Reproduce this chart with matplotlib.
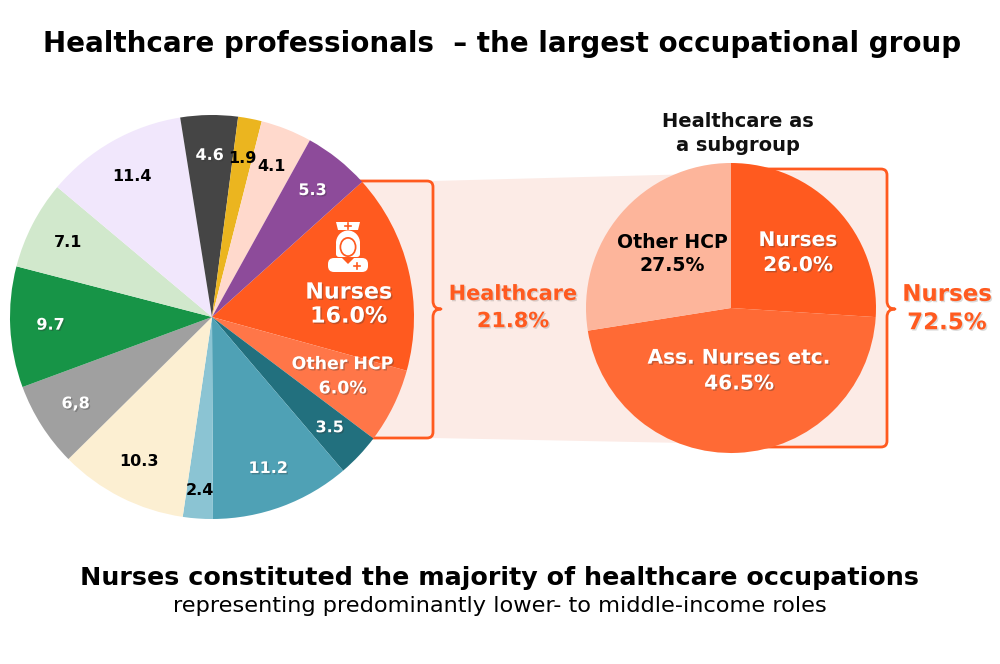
import matplotlib
matplotlib.use("Agg")
import matplotlib.pyplot as plt
import matplotlib.patheffects as pe
from matplotlib.patches import Polygon, PathPatch, FancyBboxPatch, Ellipse
from matplotlib.path import Path
import numpy as np

plt.rcParams['font.family'] = ['DejaVu Sans']

# ---------------- data ----------------
main_values = [16.0, 6.0, 3.5, 11.2, 2.4, 10.3, 6.8, 9.7, 7.1, 11.4, 4.6, 1.9, 4.1, 5.3]
main_labels = ["Nurses\n16.0%", "Other HCP\n6.0%", "3.5", "11.2", "2.4", "10.3", "6,8",
               "9.7", "7.1", "11.4", "4.6", "1.9", "4.1", "5.3"]
main_colors = ["#FF5A1F", "#FF7648", "#22707E", "#4FA1B5", "#8BC4D3", "#FCEFD2", "#A0A0A0",
               "#179447", "#D1E8CC", "#F1E7FC", "#454545", "#EBB51F", "#FFD9CC", "#8D4B9A"]
main_text_colors = ["white", "white", "white", "white", "black", "black", "white",
                    "white", "black", "black", "white", "black", "black", "white"]

sub_values = [26.0, 46.5, 27.5]
sub_labels = ["Nurses\n26.0%", "Ass. Nurses etc.\n46.5%", "Other HCP\n27.5%"]
sub_colors = ["#FF5A1F", "#FF6A35", "#FDB59B"]
sub_text_colors = ["white", "white", "black"]

healthcare_share = "21.8%"
nurses_share = "72.5%"

ORANGE = "#FF5A1F"
SHADE = "#FCEBE6"

W, H = 1000, 664
fig = plt.figure(figsize=(10, 6.64), dpi=100)
ax = fig.add_axes([0, 0, 1, 1])

def Y(y):
    return H - y

shadow = [pe.SimplePatchShadow(offset=(1, -1), alpha=0.3, shadow_rgbFace="#333333"), pe.Normal()]
oshadow = [pe.SimplePatchShadow(offset=(1, -1), alpha=0.18, shadow_rgbFace="#333333"), pe.Normal()]

# ---------------- shaded band ----------------
band = Polygon([(355, Y(181)), (433, Y(181)), (887, Y(169)), (887, Y(447)),
                (433, Y(438)), (370, Y(438))], closed=True, facecolor=SHADE,
               edgecolor='none', zorder=0)
ax.add_patch(band)

# ---------------- brackets (behind pies) ----------------
def bracket(x, y_top, y_bot, y_mid, x_top_start, x_bot_start, rad=6, notch=8):
    verts = [(x_top_start, Y(y_top)), (x - rad, Y(y_top)), (x, Y(y_top)), (x, Y(y_top + rad)),
             (x, Y(y_mid - notch)), (x, Y(y_mid)), (x + notch, Y(y_mid)),
             (x, Y(y_mid)), (x, Y(y_mid + notch)),
             (x, Y(y_bot - rad)), (x, Y(y_bot)), (x - rad, Y(y_bot)), (x_bot_start, Y(y_bot))]
    codes = [Path.MOVETO, Path.LINETO, Path.CURVE3, Path.CURVE3,
             Path.LINETO, Path.CURVE3, Path.CURVE3,
             Path.CURVE3, Path.CURVE3,
             Path.LINETO, Path.CURVE3, Path.CURVE3, Path.LINETO]
    ax.add_patch(PathPatch(Path(verts, codes), facecolor='none', edgecolor=ORANGE,
                           lw=2, zorder=0.5, capstyle='round', joinstyle='round'))

bracket(433, 181, 438, 309, 340, 350)
bracket(887, 169, 447, 309, 735, 735)

# ---------------- main pie ----------------
c1 = (212, Y(317)); r1 = 202
wedges1, _ = ax.pie(main_values, colors=main_colors, startangle=42, counterclock=False,
                    center=c1, radius=r1, frame=True,
                    wedgeprops=dict(linewidth=0, edgecolor='none'))
total = sum(main_values)
cum = 0
for i, v in enumerate(main_values):
    mid = 42 - (cum + v / 2) / total * 360
    cum += v
    t = np.deg2rad(mid)
    ls = 1.0
    if i == 0:
        d = 0.68; t = np.deg2rad(5.2); fs = 16; ls = 1.25
    elif i == 1:
        d = 0.71; t = np.deg2rad(-24.4); fs = 12.5; ls = 1.45
    else:
        d = 0.80; fs = 11.5
        if i == 4:
            d = 0.86
    x = c1[0] + d * r1 * np.cos(t)
    y = c1[1] + d * r1 * np.sin(t)
    col = main_text_colors[i]
    eff = shadow if col == "white" else None
    ax.text(x, y, main_labels[i], ha='center', va='center', fontsize=fs,
            fontweight='bold', color=col, linespacing=ls, path_effects=eff, zorder=5)

# ---------------- nurse icon ----------------
ix = 348
ic = dict(facecolor='white', edgecolor='none', zorder=6)
# cap
ax.add_patch(Polygon([(ix - 12, Y(222)), (ix + 12, Y(222)), (ix + 10, Y(230)),
                      (ix - 10, Y(230))], closed=True, **ic))
ax.plot([ix, ix], [Y(223), Y(229)], color=ORANGE, lw=1.2, zorder=7)
ax.plot([ix - 3, ix + 3], [Y(226), Y(226)], color=ORANGE, lw=1.2, zorder=7)
# head / hair
ax.add_patch(Ellipse((ix, Y(243)), 24, 25, **ic))
ax.add_patch(FancyBboxPatch((ix - 12, Y(257)), 24, 14, boxstyle="round,pad=0,rounding_size=3", **ic))
ax.add_patch(Ellipse((ix, Y(247)), 17, 20, facecolor=ORANGE, edgecolor='none', zorder=7))
ax.add_patch(Ellipse((ix, Y(247)), 13.5, 16.5, facecolor='white', edgecolor='none', zorder=8))
# body
ax.add_patch(FancyBboxPatch((ix - 20, Y(272)), 40, 14, boxstyle="round,pad=0,rounding_size=6", **ic))
ax.add_patch(Polygon([(ix - 6, Y(258)), (ix + 6, Y(258)), (ix, Y(264))],
                     facecolor=ORANGE, edgecolor='none', zorder=7))
ax.plot([ix + 9, ix + 9], [Y(263), Y(269)], color=ORANGE, lw=1.2, zorder=7)
ax.plot([ix + 6, ix + 12], [Y(266), Y(266)], color=ORANGE, lw=1.2, zorder=7)

# ---------------- sub pie ----------------
c2 = (731, Y(308)); r2 = 145
wedges2, _ = ax.pie(sub_values, colors=sub_colors, startangle=90, counterclock=False,
                    center=c2, radius=r2, frame=True,
                    wedgeprops=dict(linewidth=0, edgecolor='none'))
sub_pos = [(798, 253), (739, 371), (672, 254)]
sub_fs = [14.5, 14.5, 13.6]
sub_ls = [1.4, 1.45, 1.3]
for i, (px, py) in enumerate(sub_pos):
    col = sub_text_colors[i]
    eff = shadow if col == "white" else None
    ax.text(px, Y(py), sub_labels[i], ha='center', va='center', fontsize=sub_fs[i],
            fontweight='bold', color=col, linespacing=sub_ls[i], path_effects=eff, zorder=5)

# ---------------- side labels ----------------
ax.text(513, Y(307.5), "Healthcare\n" + healthcare_share, ha='center', va='center',
        fontsize=15, fontweight='bold', color=ORANGE, linespacing=1.45, path_effects=oshadow)
ax.text(947, Y(308.5), "Nurses\n" + nurses_share, ha='center', va='center',
        fontsize=16.5, fontweight='bold', color=ORANGE, linespacing=1.3, path_effects=oshadow)

ax.text(738, Y(133.5), "Healthcare as\na subgroup", ha='center', va='center',
        fontsize=14, fontweight='bold', color='#111111', linespacing=1.28)

# ---------------- titles ----------------
ax.text(502, Y(44), "Healthcare professionals  – the largest occupational group",
        ha='center', va='center', fontsize=20, fontweight='bold', color='black')
ax.text(500, Y(578), "Nurses constituted the majority of healthcare occupations",
        ha='center', va='center', fontsize=18.3, fontweight='bold', color='black')
ax.text(500, Y(606), "representing predominantly lower- to middle-income roles",
        ha='center', va='center', fontsize=16.2, color='black')

ax.set_xlim(0, W)
ax.set_ylim(0, H)
ax.set_aspect('equal')
ax.axis('off')

fig.savefig("out.png", dpi=100, facecolor='white')
